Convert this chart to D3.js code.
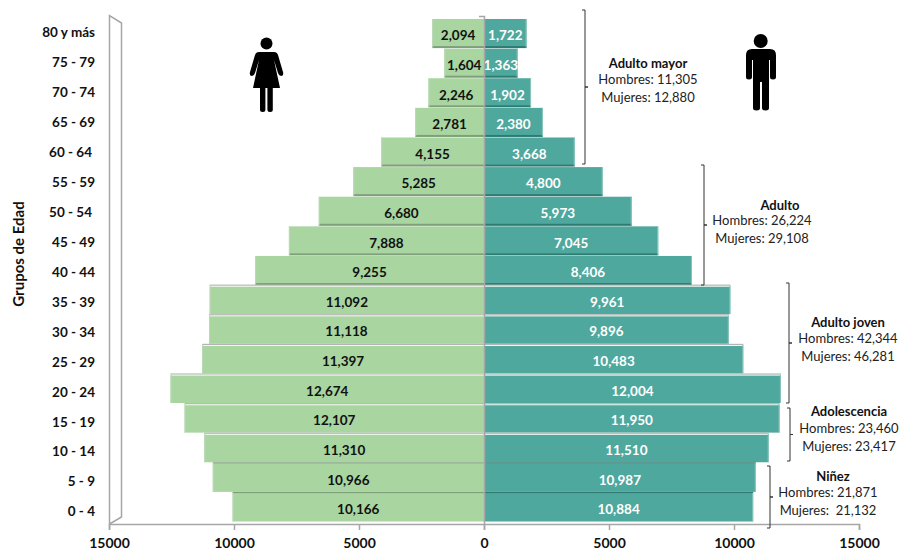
<!DOCTYPE html>
<html>
<head>
<meta charset="utf-8">
<script src="https://cdn.jsdelivr.net/npm/d3@7"></script>
<style>
  body { margin: 0; background: #fff; }
  text { font-family: Lato, "Open Sans", sans-serif; fill: #111; }
</style>
</head>
<body>
<div id="chart"></div>
<script>
const grupos = ["80 y más", "75 - 79", "70 - 74", "65 - 69", "60 - 64", "55 - 59", "50 - 54", "45 - 49",
    "40 - 44", "35 - 39", "30 - 34", "25 - 29", "20 - 24", "15 - 19", "10 - 14", "5 - 9", "0 - 4"];
const mujeres = [2094, 1604, 2246, 2781, 4155, 5285, 6680, 7888, 9255, 11092, 11118, 11397, 12674, 12107, 11310, 10966, 10166];
const hombres = [1722, 1363, 1902, 2380, 3668, 4800, 5973, 7045, 8406, 9961, 9896, 10483, 12004, 11950, 11510, 10987, 10884];
const ticksX = [-15000, -10000, -5000, 0, 5000, 10000, 15000];
const etapas = ["Adulto mayor", "Adulto", "Adulto joven", "Adolescencia", "Niñez"];
const etapaHombres = ["Hombres: 11,305", "Hombres: 26,224", "Hombres: 42,344", "Hombres: 23,460", "Hombres: 21,871"];
const etapaMujeres = ["Mujeres: 12,880", "Mujeres: 29,108", "Mujeres: 46,281", "Mujeres: 23,417", "Mujeres:  21,132"];

const width = 901, height = 552;
const zero = 484;

const svg = d3.select("#chart").append("svg")
    .attr("width", width)
    .attr("height", height)
    .style("display", "block");

// the 3d look of the original: axis plane is wider than the plane the bars stand in
const xAxisScale = d3.scaleLinear().domain([-15000, 15000]).range([109, 859]);
const xBar = d3.scaleLinear().domain([-15000, 15000]).range([zero - 371, zero + 371]);
const yBar = d3.scaleBand().domain(grupos).range([19, 521.5]).paddingInner(0.035);
const yLabel = d3.scaleBand().domain(grupos).range([18, 527]);

const gray = "#a6a6a6";

// side wall
svg.append("path")
    .attr("d", "M109.5,524V15.5L121.5,23V517L109.5,524")
    .attr("fill", "none")
    .attr("stroke", gray)
    .attr("stroke-width", 1.5);

// bars
const rows = grupos.map((g, i) => ({g: g, i: i, m: mujeres[i], h: hombres[i]}));

function drawSide(key, fill, shade) {
    const side = svg.append("g");
    const left = key === "m";
    const x0 = d => left ? xBar(-d[key]) : zero;
    const w = d => left ? zero - xBar(-d[key]) : xBar(d[key]) - zero;

    side.selectAll("rect.bar").data(rows).enter().append("rect")
        .attr("class", "bar")
        .attr("x", x0)
        .attr("y", d => yBar(d.g))
        .attr("width", w)
        .attr("height", yBar.bandwidth())
        .attr("fill", fill);

    // edge between the bars, changes with the viewing angle
    side.selectAll("rect.edge").data(rows).enter().append("rect")
        .attr("class", "edge")
        .attr("x", x0)
        .attr("y", d => d.i < 9 ? yBar(d.g) + yBar.bandwidth() - 1.5 : yBar(d.g) - 1)
        .attr("width", w)
        .attr("height", d => d.i < 9 ? 2 : 1.2)
        .attr("fill", d => (d.i < 9 || d.i > 14) ? shade : "#b4b4b4");

    // white line under the grey edge on the middle rows
    side.selectAll("rect.light").data(rows.filter(d => d.i >= 9 && d.i <= 14)).enter().append("rect")
        .attr("class", "light")
        .attr("x", x0)
        .attr("y", d => yBar(d.g) + 0.2)
        .attr("width", w)
        .attr("height", 1)
        .attr("fill", "#f2f7f1");

    // end of the bar
    side.selectAll("rect.end").data(rows).enter().append("rect")
        .attr("class", "end")
        .attr("x", d => left ? x0(d) : zero + w(d) - 1)
        .attr("y", d => yBar(d.g))
        .attr("width", 1)
        .attr("height", yBar.bandwidth())
        .attr("fill", left ? "#bcd8b6" : "#8cc6be");
}
drawSide("m", "#a8d5a0", "#7f9f7a");
drawSide("h", "#4fa89e", "#2f7b72");

// value labels
function drawValues(key, color, sign) {
    svg.selectAll("text.val-" + key).data(rows).enter().append("text")
        .attr("class", "val-" + key)
        .attr("x", d => (zero + xBar(sign * d[key])) / 2)
        .attr("y", d => yBar(d.g) + yBar.bandwidth() / 2 + 7)
        .attr("text-anchor", "middle")
        .style("font-size", "13.5px")
        .style("font-weight", 700)
        .style("fill", color)
        .text(d => d3.format(",")(d[key]));
}
drawValues("m", "#111", -1);
drawValues("h", "#fff", 1);

// center line and floor
svg.append("path")
    .attr("d", "M479,16.5H484.5V530")
    .attr("fill", "none")
    .attr("stroke", gray)
    .attr("stroke-width", 1.5);

const xAxis = svg.append("g")
    .attr("transform", "translate(0,524)")
    .call(d3.axisBottom(xAxisScale).tickValues(ticksX).tickSize(6).tickPadding(8).tickFormat(d => Math.abs(d)));
xAxis.selectAll("path, line").attr("stroke", gray).attr("stroke-width", 1.5);
xAxis.selectAll("text")
    .style("font-size", "14px")
    .style("font-weight", 700)
    .style("font-family", "Lato, sans-serif")
    .style("fill", "#111");

const yAxis = svg.append("g")
    .attr("transform", "translate(95,0)")
    .call(d3.axisLeft(yLabel).tickSize(0).tickPadding(0));
yAxis.select(".domain").remove();
yAxis.selectAll("text")
    .attr("dx", d => (d === "60 - 64" || d === "50 - 54") ? -3 : 0)
    .style("font-size", "13.5px")
    .style("font-weight", 700)
    .style("font-family", "Lato, sans-serif")
    .style("fill", "#111");

svg.append("text")
    .attr("transform", "translate(24,254) rotate(-90)")
    .attr("text-anchor", "middle")
    .style("font-size", "15px")
    .style("font-weight", 700)
    .text("Grupos de Edad");

// brackets and group notes
const brackets = [
    {x: 585, y0: 10, y1: 164, titleX: 648, titleY: 68, lineX: 648, lineY: 84},
    {x: 704, y0: 165, y1: 285, titleX: 780, titleY: 210, lineX: 762, lineY: 225},
    {x: 789, y0: 283, y1: 403, titleX: 848, titleY: 327, lineX: 848, lineY: 343},
    {x: 790, y0: 408, y1: 461, titleX: 849, titleY: 416, lineX: 849, lineY: 433},
    {x: 770, y0: 466, y1: 528, titleX: 833, titleY: 481, lineX: 828, lineY: 497}
];

brackets.forEach((b, i) => {
    const mid = (b.y0 + b.y1) / 2;
    svg.append("path")
        .attr("d", `M${b.x - 3},${b.y0}H${b.x}V${mid}H${b.x + 3}H${b.x}V${b.y1}H${b.x - 3}`)
        .attr("fill", "none")
        .attr("stroke", "#333")
        .attr("stroke-width", 1);
    svg.append("text")
        .attr("x", b.titleX).attr("y", b.titleY)
        .attr("text-anchor", "middle")
        .style("font-size", "13px")
        .style("font-weight", 700)
        .text(etapas[i]);
    [etapaHombres[i], etapaMujeres[i]].forEach((t, j) => {
        svg.append("text")
            .attr("x", b.lineX).attr("y", b.lineY + j * 18)
            .attr("text-anchor", "middle")
            .attr("xml:space", "preserve")
            .style("font-size", "13px")
            .style("fill", "#222")
            .text(t);
    });
});

// woman icon
const woman = svg.append("g").attr("fill", "#000");
woman.append("circle").attr("cx", 266.5).attr("cy", 43.5).attr("r", 6);
woman.append("path").attr("d", "M259,52H274Q277,52 278,55L283,72Q284,76 281,76Q279,76 278,73L274,60L280,88H253L259,60L255,73Q254,76 252,76Q249,76 250,72L255,55Q256,52 259,52Z");
woman.append("rect").attr("x", 260).attr("y", 86).attr("width", 5.4).attr("height", 26).attr("rx", 2.5);
woman.append("rect").attr("x", 267.4).attr("y", 86).attr("width", 5.4).attr("height", 26).attr("rx", 2.5);

// man icon, a bit soft in the original
const defs = svg.append("defs");
defs.append("filter").attr("id", "soft").append("feGaussianBlur").attr("stdDeviation", 0.6);
const man = svg.append("g").attr("fill", "#000").attr("filter", "url(#soft)");
man.append("circle").attr("cx", 760.7).attr("cy", 41).attr("r", 7);
man.append("path").attr("d", "M752,49H770Q776,49 776,55V77Q776,79.5 773,79.5Q770,79.5 770,77V60H769V108Q769,110.5 765.5,110.5Q762,110.5 762,108V82H760V108Q760,110.5 756.5,110.5Q753,110.5 753,108V60H752V77Q752,79.5 749,79.5Q746,79.5 746,77V55Q746,49 752,49Z");
</script>
</body>
</html>
